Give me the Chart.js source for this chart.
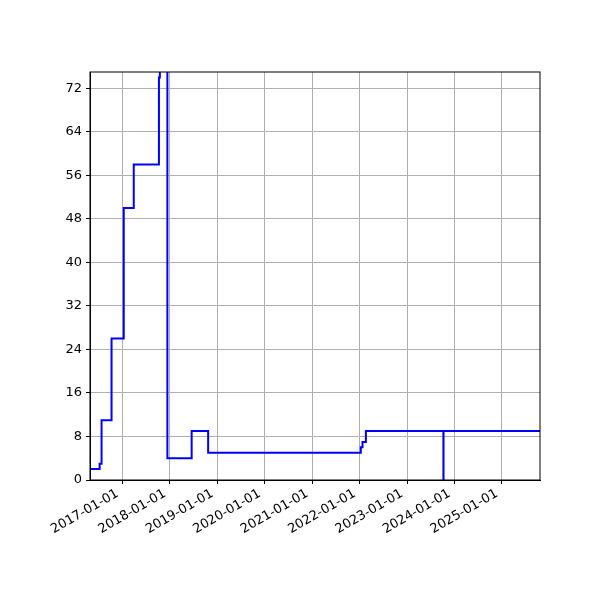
<!DOCTYPE html>
<html lang="en">
  <head>
    <meta charset="UTF-8" />
    <title>Step series</title>
    <style>
      body {
        margin: 0;
        background-color: #ffffff;
      }
    </style>
  </head>
  <body>
    <canvas id="stepChart" width="600" height="600"></canvas>

    <script src="https://cdn.jsdelivr.net/npm/chart.js"></script>
    <script>
      // values
      const dates = [
        "2016-04-25", "2016-07-08", "2016-07-23", "2016-10-08",
        "2017-01-10", "2017-03-28", "2017-10-08", "2017-10-15",
        "2017-12-12", "2018-06-17", "2018-10-22", "2022-01-10",
        "2022-01-23", "2022-02-18", "2023-10-08", "2023-10-09",
        "2025-10-21",
      ];
      const counts = [2, 3, 11, 26, 50, 58, 74, 80, 4, 9, 5, 6, 7, 9, 0, 9, 9];
      const yearTicks = [
        "2017-01-01", "2018-01-01", "2019-01-01", "2020-01-01", "2021-01-01",
        "2022-01-01", "2023-01-01", "2024-01-01", "2025-01-01",
      ];
      const yTicks = [0, 8, 16, 24, 32, 40, 48, 56, 64, 72];

      const points = dates.map((d, i) => ({ x: Date.parse(d), y: counts[i] }));

      // box round the plot area, like the matplotlib spines
      const frame = {
        id: "frame",
        afterDraw(chart) {
          const a = chart.chartArea;
          const ctx = chart.ctx;
          ctx.save();
          ctx.strokeStyle = "#000";
          ctx.lineWidth = 1;
          ctx.strokeRect(a.left, a.top, a.right - a.left, a.bottom - a.top);
          ctx.restore();
        },
      };

      Chart.defaults.font.family = "'DejaVu Sans', sans-serif";
      Chart.defaults.font.size = 13;
      Chart.defaults.color = "#000";

      new Chart(document.getElementById("stepChart"), {
        type: "line",
        data: {
          datasets: [
            {
              data: points,
              borderColor: "#0000ff",
              borderWidth: 2,
              stepped: true,
              pointRadius: 0,
              fill: false,
            },
          ],
        },
        options: {
          responsive: false,
          animation: false,
          devicePixelRatio: 1,
          layout: { padding: { top: 72, right: 60, left: 0, bottom: 0 } },
          plugins: { legend: { display: false }, tooltip: { enabled: false } },
          scales: {
            x: {
              type: "linear",
              min: Date.parse("2016-04-25"),
              max: Date.parse("2025-10-21"),
              afterBuildTicks: (s) => {
                s.ticks = yearTicks.map((d) => ({ value: Date.parse(d) }));
              },
              afterFit: (s) => {
                s.height = 120;
              },
              ticks: {
                minRotation: 30,
                maxRotation: 30,
                padding: 2,
                labelOffset: -5,
                callback: (v) => new Date(v).toISOString().slice(0, 10),
              },
              grid: { color: "#b0b0b0", tickColor: "#000", tickLength: 4 },
              border: { color: "#000" },
            },
            y: {
              min: 0,
              max: 75,
              afterBuildTicks: (s) => {
                s.ticks = yTicks.map((v) => ({ value: v }));
              },
              afterFit: (s) => {
                s.width = 90;
              },
              ticks: { padding: 4 },
              grid: { color: "#b0b0b0", tickColor: "#000", tickLength: 4 },
              border: { color: "#000" },
            },
          },
        },
        plugins: [frame],
      });
    </script>
  </body>
</html>
